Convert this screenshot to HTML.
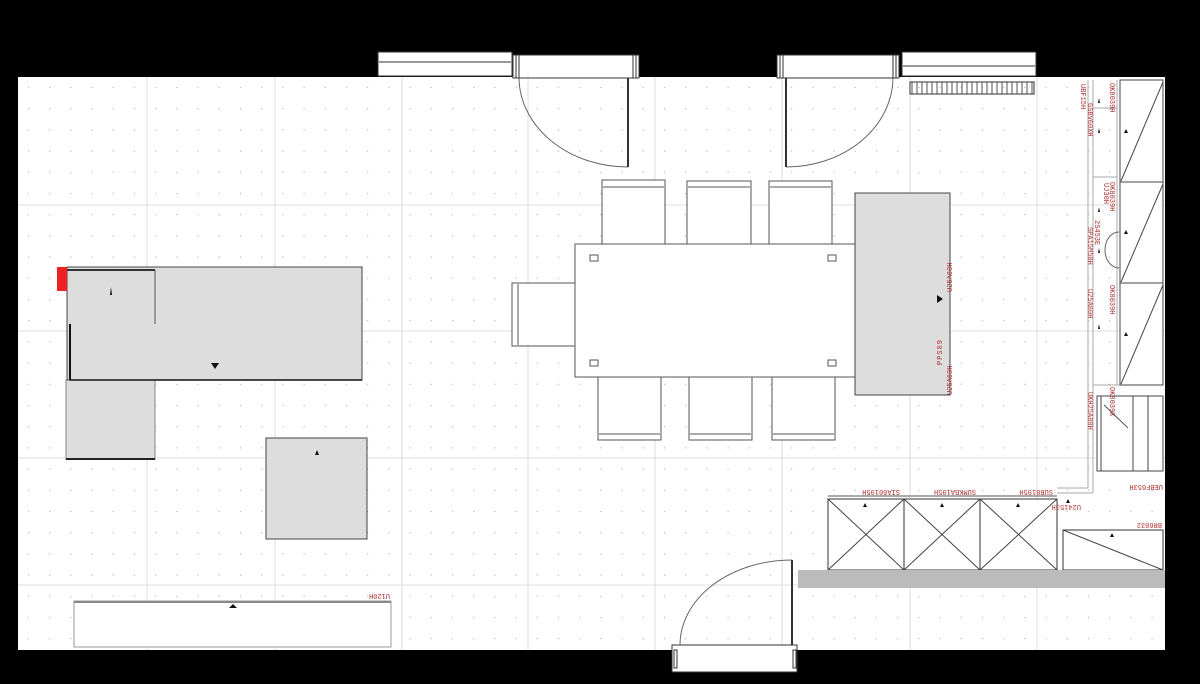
<!DOCTYPE html>
<html><head><meta charset="utf-8"><style>
html,body{margin:0;padding:0;background:#000;width:1200px;height:684px;overflow:hidden}
svg{display:block}
text{font-family:"Liberation Mono",monospace;fill:#b03030;font-size:7px}
</style></head><body>
<svg width="1200" height="684" viewBox="0 0 1200 684" xmlns="http://www.w3.org/2000/svg">
<defs>
<pattern id="dots" x="18" y="77" width="21.2" height="21.2" patternUnits="userSpaceOnUse">
<rect x="10" y="10" width="1" height="1" fill="#999"/>
</pattern>
<pattern id="hatch" x="910" y="82" width="5" height="12" patternUnits="userSpaceOnUse">
<line x1="2" y1="0" x2="2" y2="12" stroke="#555" stroke-width="1"/>
</pattern>
</defs>
<rect x="0" y="0" width="1200" height="684" fill="#000"/>
<rect x="18" y="77" width="1147" height="573" fill="#fff"/>
<rect x="18" y="77" width="1147" height="573" fill="url(#dots)"/>
<g stroke="#ddd" stroke-width="1">
<line x1="147" y1="77" x2="147" y2="650"/><line x1="275" y1="77" x2="275" y2="650"/>
<line x1="402" y1="77" x2="402" y2="650"/><line x1="528" y1="77" x2="528" y2="650"/>
<line x1="655" y1="77" x2="655" y2="650"/><line x1="782" y1="77" x2="782" y2="650"/>
<line x1="910" y1="77" x2="910" y2="650"/><line x1="1037" y1="77" x2="1037" y2="650"/>
<line x1="18" y1="205" x2="1165" y2="205"/><line x1="18" y1="331" x2="1165" y2="331"/>
<line x1="18" y1="458" x2="1165" y2="458"/><line x1="18" y1="585" x2="1165" y2="585"/>
</g>
<g fill="#fff" stroke="#333" stroke-width="1">
<rect x="378" y="52" width="134" height="24"/><line x1="379" y1="62" x2="511" y2="62"/>
<rect x="513" y="55" width="126" height="23"/><rect x="516" y="55" width="3" height="23"/><rect x="633" y="55" width="3" height="23"/>
<rect x="777" y="55" width="122" height="23"/><rect x="780" y="55" width="3" height="23"/><rect x="893" y="55" width="3" height="23"/>
<rect x="902" y="52" width="134" height="24"/><line x1="903" y1="66" x2="1035" y2="66"/>
<rect x="910" y="82" width="124" height="12" fill="url(#hatch)"/>
<rect x="672" y="645" width="125" height="27"/><rect x="674" y="650" width="3" height="18"/><rect x="793" y="650" width="3" height="18"/>
</g>
<g fill="none" stroke="#666" stroke-width="1">
<path d="M519 78 A109 90 0 0 0 628 167"/>
<path d="M893 78 A107 90 0 0 1 786 167"/>
<path d="M680 645 A112 85 0 0 1 792 560"/>
</g>
<g stroke="#333" stroke-width="2">
<line x1="628" y1="78" x2="628" y2="167"/><line x1="786" y1="78" x2="786" y2="167"/>
<line x1="792" y1="560" x2="792" y2="645"/>
</g>
<rect x="66" y="380" width="89" height="79" fill="#ddd" stroke="#888"/>
<line x1="66" y1="459" x2="155" y2="459" stroke="#222" stroke-width="2"/>
<rect x="67" y="267" width="295" height="113" fill="#ddd" stroke="#444"/>
<line x1="70" y1="324" x2="70" y2="380" stroke="#111" stroke-width="2"/>
<line x1="70" y1="380" x2="362" y2="380" stroke="#111" stroke-width="1.5"/>
<line x1="155" y1="270" x2="155" y2="324" stroke="#555"/>
<line x1="67" y1="270" x2="155" y2="270" stroke="#333" stroke-width="2"/>
<rect x="57" y="267" width="10" height="24" fill="#e22"/>
<polygon points="110,295 111,287 112,295" fill="#111"/>
<polygon points="211,363 219,363 215,369" fill="#111"/>
<rect x="266" y="438" width="101" height="101" fill="#ddd" stroke="#444"/>
<polygon points="315,455 317,450 319,455" fill="#111"/>
<rect x="74" y="601" width="317" height="46" fill="#fff" stroke="#999"/>
<line x1="74" y1="602" x2="391" y2="602" stroke="#888" stroke-width="2"/>
<polygon points="229,608 233,604 237,608" fill="#111"/>
<text x="0" y="0" transform="translate(390,594) rotate(180)" font-size="8">U120H</text>
<g fill="#fff" stroke="#555" stroke-width="1">
<rect x="602" y="180" width="63" height="64"/><rect x="687" y="181" width="64" height="63"/><rect x="769" y="181" width="63" height="63"/>
<rect x="598" y="377" width="63" height="63"/><rect x="689" y="377" width="63" height="63"/><rect x="772" y="377" width="63" height="63"/>
<rect x="512" y="283" width="63" height="63"/>
<rect x="575" y="244" width="280" height="133"/>
<rect x="590" y="255" width="8" height="6"/><rect x="828" y="255" width="8" height="6"/>
<rect x="590" y="360" width="8" height="6"/><rect x="828" y="360" width="8" height="6"/>
</g>
<g stroke="#555" fill="none">
<line x1="603" y1="187" x2="664" y2="187"/><line x1="688" y1="187" x2="750" y2="187"/><line x1="770" y1="187" x2="831" y2="187"/>
<line x1="599" y1="434" x2="660" y2="434"/><line x1="690" y1="434" x2="751" y2="434"/><line x1="773" y1="434" x2="834" y2="434"/>
<line x1="518" y1="284" x2="518" y2="345"/>
</g>
<rect x="855" y="193" width="95" height="202" fill="#ddd" stroke="#444"/>
<polygon points="937,295 937,303 943,299" fill="#111"/>
<text x="0" y="0" transform="translate(942,365) rotate(-90)" font-size="11" letter-spacing="1">PPS89</text>
<text x="0" y="0" transform="translate(952,395) rotate(-90)" font-size="6">U25A60H</text>
<text x="0" y="0" transform="translate(952,292) rotate(-90)" font-size="6">U25A60H</text>
<g stroke="#aaa" fill="none">
<line x1="1088" y1="80" x2="1088" y2="488"/><line x1="1093" y1="80" x2="1093" y2="493"/>
<line x1="1057" y1="488" x2="1088" y2="488"/><line x1="1057" y1="493" x2="1093" y2="493"/>
<line x1="1117" y1="80" x2="1117" y2="385"/>
<line x1="1093" y1="108" x2="1117" y2="108"/><line x1="1093" y1="177" x2="1117" y2="177"/>
<line x1="1093" y1="385" x2="1163" y2="385"/>
</g>
<g fill="#fff" stroke="#444">
<rect x="1120" y="80" width="43" height="102"/><rect x="1120" y="182" width="43" height="101"/><rect x="1120" y="283" width="43" height="102"/>
</g>
<g stroke="#444">
<line x1="1121" y1="181" x2="1163" y2="82"/><line x1="1121" y1="282" x2="1163" y2="184"/><line x1="1121" y1="384" x2="1163" y2="285"/>
</g>
<path d="M1119 232 A14 18 0 0 0 1119 268" fill="none" stroke="#666"/>
<g fill="#111">
<polygon points="1098,103 1099,98 1100,103"/><polygon points="1098,133 1099,128 1100,133"/>
<polygon points="1098,212 1099,207 1100,212"/><polygon points="1098,253 1099,248 1100,253"/>
<polygon points="1098,329 1099,324 1100,329"/>
<polygon points="1124,133 1126,129 1128,133"/><polygon points="1124,234 1126,230 1128,234"/><polygon points="1124,336 1126,332 1128,336"/>
</g>
<g fill="#fff" stroke="#444">
<rect x="1097" y="396" width="66" height="75"/><line x1="1133" y1="396" x2="1133" y2="471"/><line x1="1148" y1="396" x2="1148" y2="471"/>
<rect x="1097" y="396" width="4" height="75"/>
</g>
<line x1="1104" y1="405" x2="1128" y2="428" stroke="#555"/>
<text x="0" y="0" transform="translate(1110,83) rotate(90)">OK8039H</text>
<text x="0" y="0" transform="translate(1110,182) rotate(90)">OK8039H</text>
<text x="0" y="0" transform="translate(1110,285) rotate(90)">OK8039H</text>
<text x="0" y="0" transform="translate(1110,387) rotate(90)">OK8039X</text>
<text x="0" y="0" transform="translate(1081,84) rotate(90)">UBF15H</text>
<text x="0" y="0" transform="translate(1088,103) rotate(90)">GSBV60XH</text>
<text x="0" y="0" transform="translate(1104,183) rotate(90)">UJ30H</text>
<text x="0" y="0" transform="translate(1095,220) rotate(90)">2S453E</text>
<text x="0" y="0" transform="translate(1088,227) rotate(90)">SPA15M50H</text>
<text x="0" y="0" transform="translate(1088,289) rotate(90)">U25A80H</text>
<text x="0" y="0" transform="translate(1088,392) rotate(90)">UKH25A80H</text>
<text x="0" y="0" transform="translate(1163,485) rotate(180)">UEBF653H</text>
<line x1="828" y1="496" x2="1057" y2="496" stroke="#aaa" stroke-width="2"/>
<g fill="#fff" stroke="#333">
<rect x="828" y="499" width="76" height="71"/><rect x="904" y="499" width="76" height="71"/><rect x="980" y="499" width="77" height="71"/>
<rect x="1063" y="530" width="100" height="40"/>
</g>
<g stroke="#444">
<line x1="828" y1="499" x2="904" y2="570"/><line x1="904" y1="499" x2="828" y2="570"/>
<line x1="904" y1="499" x2="980" y2="570"/><line x1="980" y1="499" x2="904" y2="570"/>
<line x1="980" y1="499" x2="1057" y2="570"/><line x1="1057" y1="499" x2="980" y2="570"/>
<line x1="1063" y1="530" x2="1163" y2="570"/>
</g>
<g fill="#111">
<polygon points="863,507 865,503 867,507"/><polygon points="940,507 942,503 944,507"/><polygon points="1016,507 1018,503 1020,507"/>
<polygon points="1110,537 1112,533 1114,537"/><polygon points="1066,503 1068,499 1070,503"/>
</g>
<text x="0" y="0" transform="translate(900,490) rotate(180)">SIA60195H</text>
<text x="0" y="0" transform="translate(976,490) rotate(180)">SUMKBA195H</text>
<text x="0" y="0" transform="translate(1053,490) rotate(180)">SUB8195H</text>
<text x="0" y="0" transform="translate(1081,505) rotate(180)" font-size="6">U24153H</text>
<text x="0" y="0" transform="translate(1162,523) rotate(180)" font-size="8">BR6032</text>
<rect x="798" y="570" width="367" height="18" fill="#bbb"/>
</svg>
</body></html>
